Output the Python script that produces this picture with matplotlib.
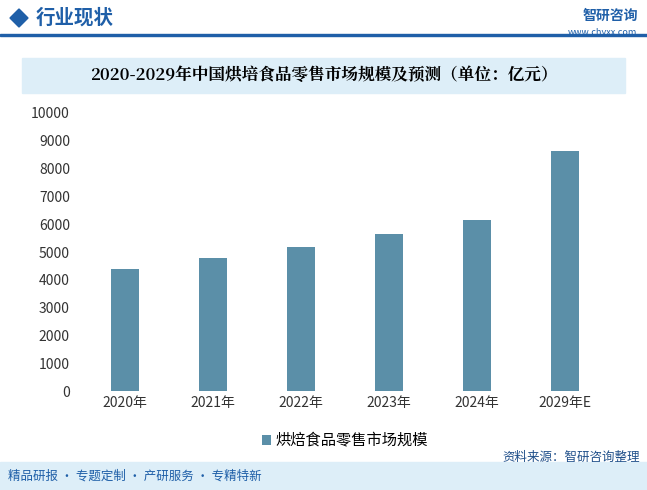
import matplotlib.pyplot as plt
from matplotlib.patches import Rectangle, Polygon

plt.rcParams['font.family'] = ['Noto Sans CJK SC']

years = ['2020年', '2021年', '2022年', '2023年', '2024年', '2029年E']
market = [4390, 4780, 5180, 5650, 6150, 8630]
yticks = list(range(0, 10001, 1000))

W, H = 647, 490
fig = plt.figure(figsize=(W / 100, H / 100), dpi=100)

# header
fig.patches.append(Polygon([[10/W, 1-18/H], [19/W, 1-9/H], [28/W, 1-18/H], [19/W, 1-27/H]],
                           closed=True, color='#1f5fa8', transform=fig.transFigure))
fig.text(36/W, 1-18/H, '行业现状', fontsize=14, fontweight='bold', color='#1f5fa8', va='center')
fig.patches.append(Rectangle((0, 1-36/H), 1, 1.5/H, color='#1f5fa8', transform=fig.transFigure))
fig.text(583/W, 1-16/H, '智研咨询', fontsize=10, fontweight='bold', color='#1f5fa8', va='center')
fig.text(637/W, 1-37/H + 0.0, 'www.chyxx.com', fontsize=6.5, color='#1f5fa8', ha='right', va='bottom')

# title box
fig.patches.append(Rectangle((22/W, 1-93/H), 603/W, 35/H, color='#ddeef8', transform=fig.transFigure))
fig.text(324/W, 1-76/H, '2020-2029年中国烘培食品零售市场规模及预测（单位：亿元）',
         fontsize=12, fontweight='bold', ha='center', va='center', family='Noto Serif CJK SC')

# footer
fig.patches.append(Rectangle((0, 0), 1, 28/H, color='#ddeef8', transform=fig.transFigure))
fig.text(8/W, 14/H, '精品研报 · 专题定制 · 产研服务 · 专精特新', fontsize=9, color='#1f5fa8', va='center')
fig.text(640/W, 33/H, '资料来源：智研咨询整理', fontsize=9, color='#1f4f8a', ha='right', va='center')

ax = fig.add_axes([81/W, 1-391/H, 528/W, 278/H])
x = range(len(years))
ax.bar(x, market, width=0.32, color='#5b8fa8', label='烘焙食品零售市场规模')
ax.set_xlim(-0.5, len(years) - 0.5)
ax.set_ylim(0, 10000)
ax.set_yticks(yticks)
ax.set_xticks(list(x))
ax.set_xticklabels(years)
ax.tick_params(length=0, labelsize=10, colors='#333333')
ax.tick_params(axis='y', pad=8)
for s in ax.spines.values():
    s.set_visible(False)
ax.legend(loc='upper center', bbox_to_anchor=(0.5, -0.1), frameon=False, fontsize=11,
          handlelength=0.6, handleheight=0.6, handletextpad=0.3)

fig.savefig('out.png', dpi=100)
